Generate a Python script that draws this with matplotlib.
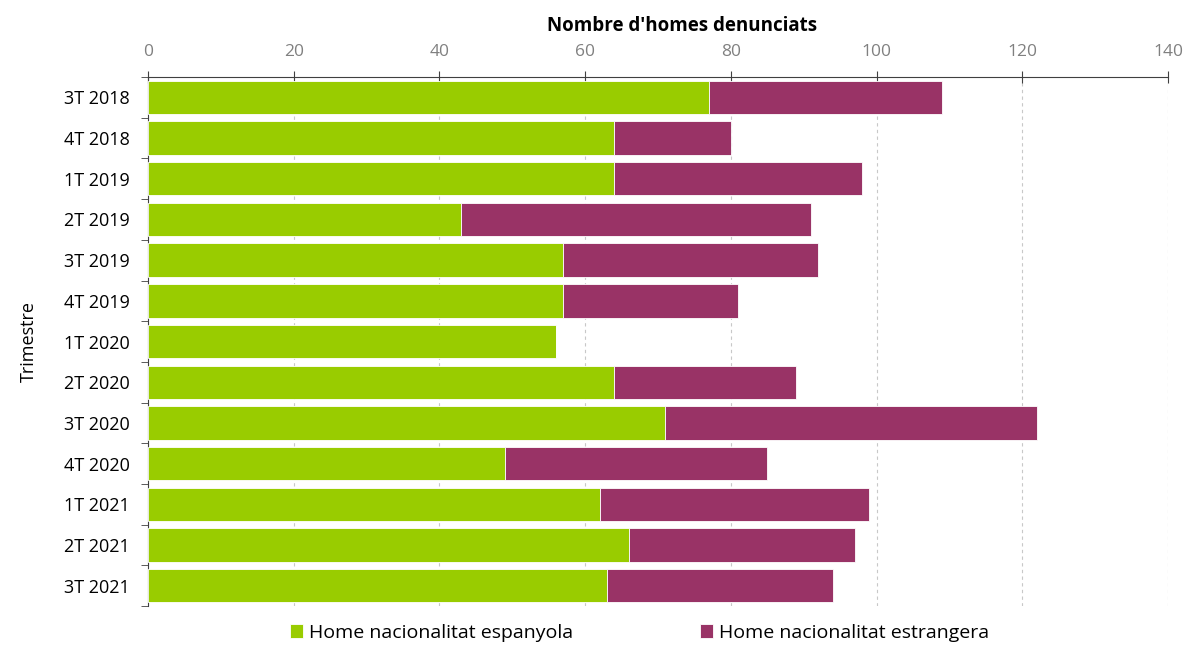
import matplotlib.pyplot as plt
import numpy as np

trimestres = ['3T 2018', '4T 2018', '1T 2019', '2T 2019', '3T 2019', '4T 2019',
              '1T 2020', '2T 2020', '3T 2020', '4T 2020', '1T 2021', '2T 2021', '3T 2021']
espanyola = [77, 64, 64, 43, 57, 57, 56, 64, 71, 49, 62, 66, 63]
estrangera = [32, 16, 34, 48, 35, 24, 0, 25, 51, 36, 37, 31, 31]

green = '#99cc00'
purple = '#993366'

plt.rcParams['font.family'] = ['Open Sans', 'DejaVu Sans']

fig = plt.figure(figsize=(11.84, 6.45), dpi=100)
ax = fig.add_axes([0.125, 0.0605, 0.8615, 0.82])

y = np.arange(len(trimestres))
ax.barh(y, espanyola, height=0.82, color=green, edgecolor='white', linewidth=0.6,
        label='Home nacionalitat espanyola', zorder=3)
ax.barh(y, estrangera, left=espanyola, height=0.82, color=purple, edgecolor='white',
        linewidth=0.6, label='Home nacionalitat estrangera', zorder=3)

ax.set_xlim(0, 140)
ax.set_ylim(len(trimestres) - 0.5, -0.5)
ax.set_xticks(np.arange(0, 141, 20))
ax.xaxis.tick_top()
ax.xaxis.set_label_position('top')
ax.set_xlabel("Nombre d'homes denunciats", fontsize=13.5, fontweight='bold', labelpad=10)
ax.xaxis.label.set_x(0.524)
ax.set_ylabel('Trimestre', fontsize=13, labelpad=19)

ax.set_yticks(y)
ax.set_yticklabels(trimestres, fontsize=13)
ax.set_yticks(np.arange(-0.5, len(trimestres)), minor=True)
ax.tick_params(axis='y', which='major', length=0, pad=13)
ax.tick_params(axis='y', which='minor', length=5, color='#404040')
ax.tick_params(axis='x', labelsize=12.5, labelcolor='#808080', length=8,
               direction='inout', color='#404040', pad=8)

ax.grid(axis='x', color='#c8c8c8', linestyle=(0, (3, 3)), linewidth=0.8, zorder=0)
for s in ['right', 'bottom']:
    ax.spines[s].set_visible(False)
ax.spines['top'].set_color('#404040')
ax.spines['left'].set_color('#404040')

handles, labels = ax.get_legend_handles_labels()
fig.legend(handles, labels, loc='lower center', bbox_to_anchor=(0.54, 0.002), ncol=2,
           frameon=False, fontsize=14, handlelength=0.7, handleheight=0.7,
           columnspacing=6.5, handletextpad=0.3, borderaxespad=0, borderpad=0.1)

fig.savefig('out.png', dpi=100)
